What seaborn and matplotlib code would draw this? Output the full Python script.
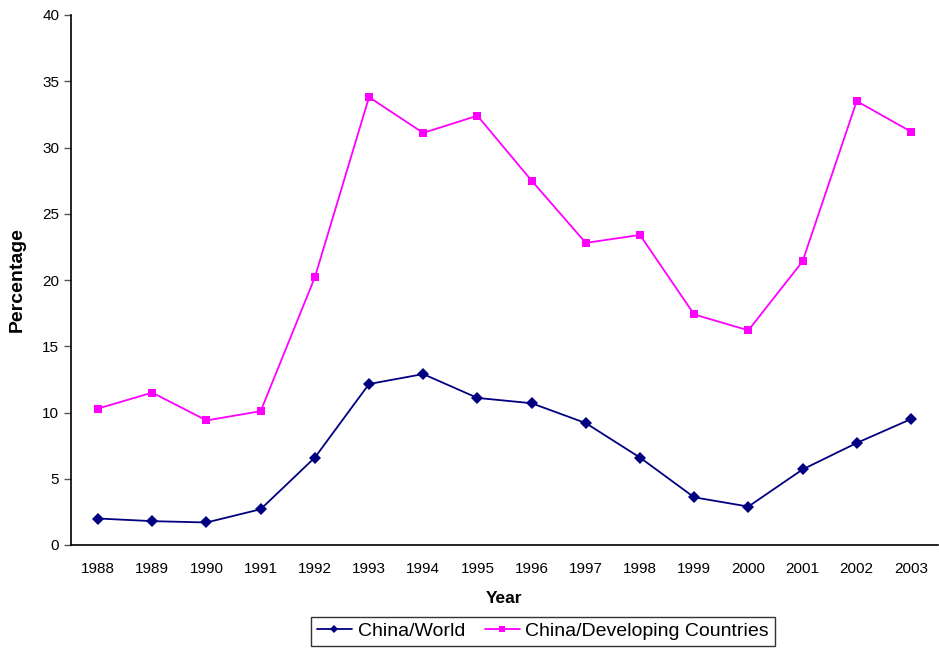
import matplotlib
matplotlib.use("Agg")
import matplotlib.pyplot as plt
import seaborn as sns
import pandas as pd
from matplotlib.ticker import FixedLocator, NullFormatter

years = list(range(1988, 2004))
china_world = [2.0, 1.8, 1.7, 2.7, 6.6, 12.15, 12.9, 11.1, 10.7, 9.2, 6.6, 3.6, 2.9, 5.7, 7.7, 9.5]
china_developing = [10.3, 11.5, 9.4, 10.1, 20.2, 33.8, 31.1, 32.4, 27.5, 22.8, 23.4, 17.4, 16.2, 21.4, 33.5, 31.2]
series_names = ["China/World", "China/Developing Countries"]

df = pd.DataFrame({
    "Year": years * 2,
    "Percentage": china_world + china_developing,
    "Series": [series_names[0]] * len(years) + [series_names[1]] * len(years),
})

sns.set_style("white")
plt.rcParams["font.family"] = ["Liberation Sans", "DejaVu Sans"]
plt.rcParams["text.color"] = "black"
plt.rcParams["axes.labelcolor"] = "black"

fig = plt.figure(figsize=(9.39, 6.49), dpi=100)
ax = fig.add_axes([71 / 939, 1 - 545 / 649, 867 / 939, 530 / 649])

sns.lineplot(
    data=df, x="Year", y="Percentage", hue="Series", style="Series",
    palette={series_names[0]: "#000080", series_names[1]: "#FF00FF"},
    markers={series_names[0]: "D", series_names[1]: "s"},
    dashes=False, markersize=6, markeredgewidth=0, linewidth=1.3, ax=ax,
)

ax.set_xlim(years[0] - 0.5, years[-1] + 0.5)
ax.set_ylim(0, 40)
ax.set_yticks(range(0, 41, 5))
ax.set_xticks(years)
ax.set_xticklabels([str(y) for y in years])
ax.xaxis.set_minor_locator(FixedLocator([y - 0.5 for y in years] + [years[-1] + 0.5]))
ax.xaxis.set_minor_formatter(NullFormatter())
ax.tick_params(axis="x", which="major", length=0, pad=12, labelsize=11, labelcolor="black")
ax.tick_params(axis="x", which="minor", length=5, width=1, direction="out", color="#555555")
ax.tick_params(axis="y", which="major", length=5, width=1, direction="out", labelsize=11,
               color="#555555", labelcolor="black", left=True)

for side in ["top", "right"]:
    ax.spines[side].set_visible(False)
for side in ["left", "bottom"]:
    ax.spines[side].set_color("black")
    ax.spines[side].set_linewidth(1.2)

ax.set_xlabel("Year", fontsize=12.5, fontweight="bold", labelpad=11)
ax.set_ylabel("Percentage", fontsize=14, fontweight="bold", labelpad=12)

leg = ax.legend(
    loc="lower center", bbox_to_anchor=(543 / 939, 3 / 649), bbox_transform=fig.transFigure,
    ncol=2, frameon=True, fontsize=14, fancybox=False, borderpad=0.3, borderaxespad=0,
    handlelength=1.8, columnspacing=1.0, handletextpad=0.3, markerscale=0.75, title=None,
)
leg.get_frame().set_edgecolor("black")
leg.get_frame().set_linewidth(1.0)
for text in leg.get_texts():
    text.set_color("black")

fig.savefig("out.png", dpi=100)
